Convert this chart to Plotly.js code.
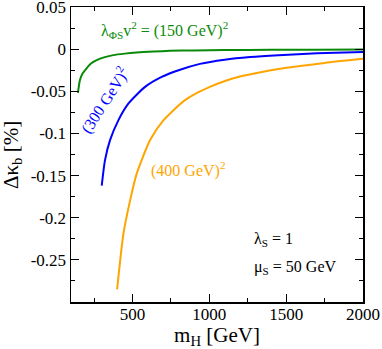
<!DOCTYPE html>
<html>
<head>
<meta charset="utf-8">
<script src="https://cdn.plot.ly/plotly-3.0.1.min.js"></script>
<style>
  html, body { margin: 0; padding: 0; background: #fff; }
  #plot { width: 382px; height: 349px; }
</style>
</head>
<body>
<div id="plot"></div>
<script>
// curves: mH [GeV] vs delta kappa_b [%]
var m_150 = [145, 158, 175, 200, 230, 267, 320, 375, 450, 527, 640, 744, 900, 1100, 1400, 1700, 2000];
var dk_150 = [-0.052, -0.037, -0.029, -0.023, -0.017, -0.013, -0.0095, -0.0071, -0.0053, -0.004, -0.0028, -0.002, -0.0015, -0.0011, -0.0008, -0.0006, -0.0005];

var m_300 = [300, 321, 354, 408, 473, 582, 690, 800, 939, 1100, 1265, 1450, 1700, 2000];
var dk_300 = [-0.162, -0.132, -0.108, -0.0845, -0.0647, -0.0448, -0.033, -0.025, -0.0175, -0.0125, -0.0093, -0.0071, -0.005, -0.0035];

var m_400 = [400, 441, 484, 527, 614, 701, 831, 920, 1000, 1102, 1200, 1300, 1490, 1750, 2000];
var dk_400 = [-0.285, -0.219, -0.180, -0.148, -0.108, -0.0845, -0.062, -0.052, -0.045, -0.0378, -0.0325, -0.0285, -0.0225, -0.0163, -0.0115];

var ytick_vals = [0.05, 0, -0.05, -0.1, -0.15, -0.2, -0.25];
var ytick_text = ['0.05', '0', '-0.05', '-0.1', '-0.15', '-0.2', '-0.25'];
var xtick_vals = [500, 1000, 1500, 2000];

var serif = 'Liberation Serif, Times New Roman, serif';

function curve(x, y, color) {
    return {
        x: x,
        y: y,
        type: 'scatter',
        mode: 'lines',
        line: { color: color, width: 2, shape: 'spline', smoothing: 0.6 },
        hoverinfo: 'skip'
    };
}

var data = [
    curve(m_150, dk_150, '#0a8a0a'),
    curve(m_300, dk_300, '#0000ff'),
    curve(m_400, dk_400, '#ffa500')
];

var layout = {
    width: 382,
    height: 349,
    margin: { l: 71, r: 19, t: 7, b: 47 },
    paper_bgcolor: '#ffffff',
    plot_bgcolor: '#ffffff',
    showlegend: false,
    font: { family: serif, size: 17, color: '#000' },
    xaxis: {
        range: [100, 2000],
        tickmode: 'array',
        tickvals: xtick_vals,
        ticks: 'inside',
        ticklen: 8,
        tickcolor: '#000',
        showline: true,
        linecolor: '#000',
        linewidth: 1.5,
        mirror: 'ticks',
        showgrid: false,
        zeroline: false,
        ticklabeloverflow: 'allow',
        ticklabelstandoff: -4,
        tickfont: { family: serif, size: 17 },
        minor: { tickmode: 'linear', tick0: 0, dtick: 250, ticks: 'inside', ticklen: 4, tickcolor: '#000', showgrid: false },
        title: { text: 'm<sub>H</sub> [GeV]', font: { family: serif, size: 21 }, standoff: 8 }
    },
    yaxis: {
        range: [-0.3, 0.05001],
        tickmode: 'array',
        tickvals: ytick_vals,
        ticktext: ytick_text,
        ticks: 'inside',
        ticklen: 8,
        tickcolor: '#000',
        showline: true,
        linecolor: '#000',
        linewidth: 1.5,
        mirror: 'ticks',
        showgrid: false,
        zeroline: false,
        ticklabeloverflow: 'allow',
        tickfont: { family: serif, size: 17 },
        minor: { tickmode: 'linear', tick0: 0, dtick: 0.025, ticks: 'inside', ticklen: 4, tickcolor: '#000', showgrid: false }
    },
    annotations: [
        {
            text: 'λ<sub>ΦS</sub>v<sup>2</sup> = (150 GeV)<sup>2</sup>',
            x: 0, y: 0, showarrow: false,
            xanchor: 'left', yanchor: 'middle',
            font: { family: serif, size: 16, color: '#0a8a0a' }
        },
        {
            text: '(300 GeV)<sup>2</sup>',
            x: 0, y: 0, showarrow: false, textangle: -57,
            font: { family: serif, size: 16, color: '#0000ff' }
        },
        {
            text: '(400 GeV)<sup>2</sup>',
            x: 0, y: 0, showarrow: false,
            font: { family: serif, size: 16, color: '#ffa500' }
        },
        {
            text: 'λ<sub>S</sub> = 1',
            x: 0, y: 0, showarrow: false, xanchor: 'left',
            font: { family: serif, size: 16, color: '#000' }
        },
        {
            text: 'μ<sub>S</sub> = 50 GeV',
            x: 0, y: 0, showarrow: false, xanchor: 'left',
            font: { family: serif, size: 16, color: '#000' }
        },
        {
            // y axis title
            text: 'Δκ<sub>b</sub> [%]',
            xref: 'paper', yref: 'paper',
            x: (12 - 71) / 292, y: (302 - 155) / 295,
            xanchor: 'center', yanchor: 'middle',
            showarrow: false, textangle: -90,
            font: { family: serif, size: 21, color: '#000' }
        }
    ]
};

// place annotations in data coordinates (pixel reads converted once)
function px2x(px) { return 100 + (px - 71) * 1900 / 292; }
function py2y(py) { return 0.05 - (py - 7) * 0.35 / 295; }
var ann = layout.annotations;
ann[0].x = px2x(99); ann[0].y = py2y(30);
ann[1].x = px2x(104); ann[1].y = py2y(100);
ann[2].x = px2x(188); ann[2].y = py2y(169);
ann[3].x = px2x(252); ann[3].y = py2y(239);
ann[4].x = px2x(252); ann[4].y = py2y(267);

Plotly.newPlot('plot', data, layout, { displayModeBar: false, staticPlot: true });
</script>
</body>
</html>
